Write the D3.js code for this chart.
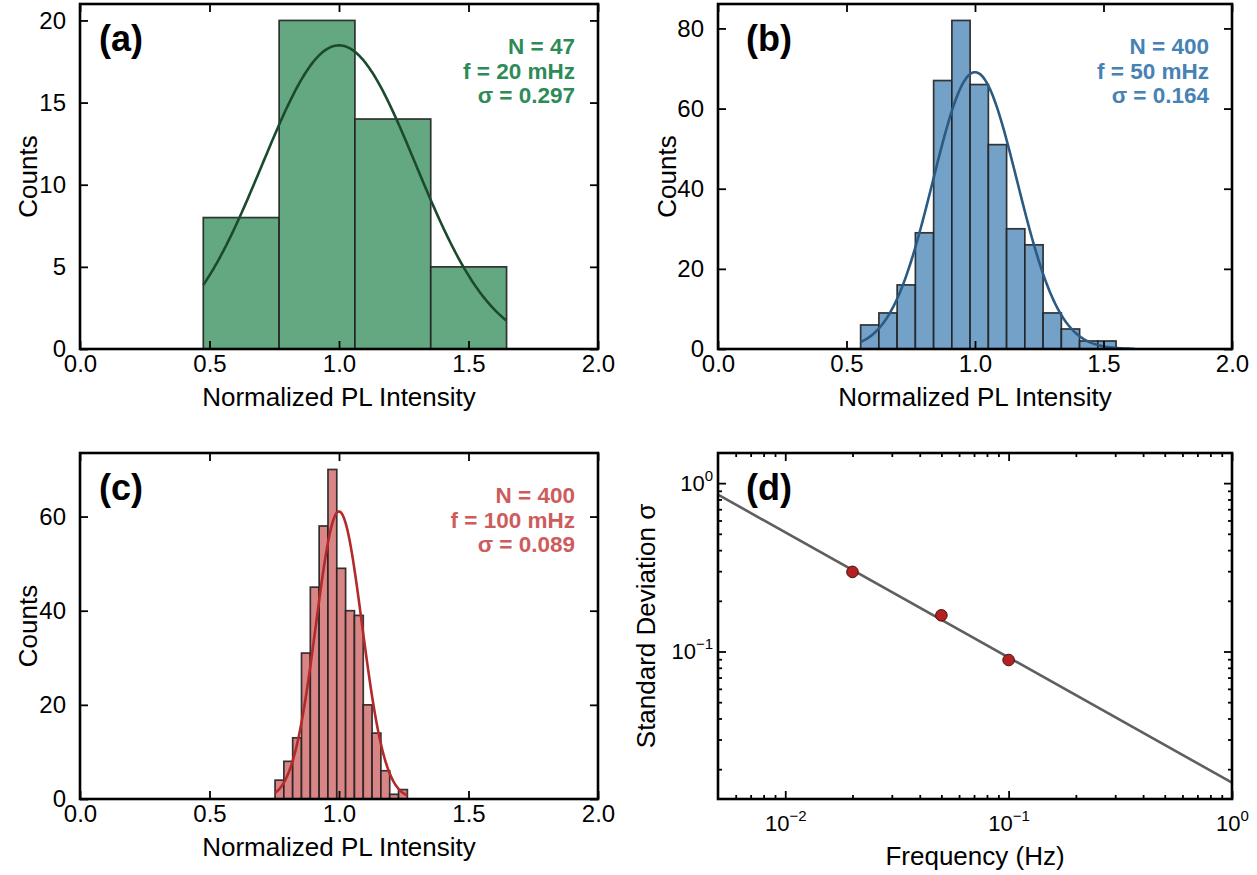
<!DOCTYPE html>
<html>
<head>
<meta charset="utf-8">
<script src="https://cdn.jsdelivr.net/npm/d3@7"></script>
<style>
body{margin:0;background:#fff}
svg{font-family:"Liberation Sans",Arial,sans-serif}
</style>
</head>
<body>
<svg id="fig" width="1257" height="875"></svg>
<script>
/* histogram counts, equal-width bins between min and max of each set */
const countsA = [8, 20, 14, 5]
const countsB = [6, 9, 16, 29, 67, 82, 66, 51, 30, 26, 9, 5, 2, 0, 2]
const countsC = [4, 8, 13, 31, 45, 58, 70, 49, 40, 39, 20, 14, 6, 1, 2]
const rangeA = [0.476, 1.647]
const rangeB = [0.555, 1.620]
const rangeC = [0.753, 1.264]

const sampleSizes = [47, 400, 400]
const freqs = [0.02, 0.05, 0.1]            // Hz
const freqLabels = ['20 mHz', '50 mHz', '100 mHz']
const sigmas = [0.297, 0.164, 0.089]       // fitted std dev
const fitMeans = [1.0, 1.0, 1.0]

const xTicksHist = [0, 0.5, 1.0, 1.5, 2.0]
const yTicksA = [0, 5, 10, 15, 20]
const yTicksB = [0, 20, 40, 60, 80]
const yTicksC = [0, 20, 40, 60]
const freqDomain = [0.005, 1]
const sigmaDomain = [0.0133, 1.51]

const svg = d3.select('#fig')

const boxes = {
    a: {left: 80, right: 598, top: 4, bottom: 349, lab: 19},
    b: {left: 718, right: 1232, top: 4, bottom: 349, lab: 28},
    c: {left: 80, right: 598, top: 453, bottom: 799, lab: 19},
    d: {left: 718, right: 1232, top: 453, bottom: 799, lab: 28}
}

const styleAxis = (g) => {
    g.select('.domain').remove()
    g.attr('font-family', '"Liberation Sans",Arial,sans-serif')
     .attr('font-size', 24)
    g.selectAll('.tick line').attr('stroke', '#000').attr('stroke-width', 1.8)
    g.selectAll('.tick text').attr('fill', '#000')
}

const drawFrame = (box) => {
    svg.append('rect')
       .attr('x', box.left).attr('y', box.top)
       .attr('width', box.right - box.left)
       .attr('height', box.bottom - box.top)
       .attr('fill', 'none').attr('stroke', '#000').attr('stroke-width', 2.6)
}

const axisLabels = (box, xText, yText, xBase, yBase) => {
    svg.append('text')
       .attr('x', (box.left + box.right) / 2).attr('y', xBase)
       .attr('text-anchor', 'middle').attr('font-size', 26)
       .text(xText)
    svg.append('text')
       .attr('transform', 'translate(' + yBase + ',' + (box.top + box.bottom) / 2 + ') rotate(-90)')
       .attr('text-anchor', 'middle').attr('font-size', 26)
       .text(yText)
}

const panelLetter = (box, letter) => {
    svg.append('text')
       .attr('x', box.left + box.lab).attr('y', box.top + 47)
       .attr('font-size', 36).attr('font-weight', 'bold')
       .text('(' + letter + ')')
}

/* one histogram panel with its gaussian fit */
const drawHist = (box, counts, range, k, yTicks, col, letter, yLabelX) => {
    const x = d3.scaleLinear().domain([0, 2]).range([box.left, box.right])
    const y = d3.scaleLinear().domain([0, d3.max(counts) * 1.05]).range([box.bottom, box.top])
    const bw = (range[1] - range[0]) / counts.length

    svg.append('g').selectAll('rect')
       .data(counts)
       .enter()
       .filter(c => c > 0)
       .append('rect')
       .attr('x', (c, i) => x(range[0] + i * bw))
       .attr('y', c => y(c))
       .attr('width', x(bw) - x(0))
       .attr('height', c => y(0) - y(c))
       .attr('fill', col.fill)
       .attr('stroke', '#222').attr('stroke-opacity', 0.9)
       .attr('stroke-width', 1.7)

    // gaussian fit scaled to counts
    const mu = fitMeans[k], s = sigmas[k]
    const amp = sampleSizes[k] * bw / (s * Math.sqrt(2 * Math.PI))
    const xs = d3.range(0, 201).map(i => range[0] + (range[1] - range[0]) * i / 200)
    const line = d3.line()
                   .x(v => x(v))
                   .y(v => y(amp * Math.exp(-(v - mu) * (v - mu) / (2 * s * s))))
    svg.append('path')
       .attr('d', line(xs))
       .attr('fill', 'none').attr('stroke', col.curve).attr('stroke-width', 2.6)

    drawFrame(box)

    svg.append('g')
       .attr('transform', 'translate(0,' + box.bottom + ')')
       .call(d3.axisBottom(x).tickValues(xTicksHist).tickFormat(d3.format('.1f'))
               .tickSizeInner(-8).tickSizeOuter(0).tickPadding(6))
       .call(styleAxis)
    svg.append('g')
       .attr('transform', 'translate(0,' + box.top + ')')
       .call(d3.axisTop(x).tickValues(xTicksHist).tickFormat('').tickSizeInner(-8).tickSizeOuter(0))
       .call(styleAxis)
    svg.append('g')
       .attr('transform', 'translate(' + box.left + ',0)')
       .call(d3.axisLeft(y).tickValues(yTicks).tickSizeInner(-8).tickSizeOuter(0).tickPadding(14))
       .call(styleAxis)
    svg.append('g')
       .attr('transform', 'translate(' + box.right + ',0)')
       .call(d3.axisRight(y).tickValues(yTicks).tickFormat('').tickSizeInner(-8).tickSizeOuter(0))
       .call(styleAxis)

    // annotation
    const lines = ['N = ' + sampleSizes[k], 'f = ' + freqLabels[k], 'σ = ' + sigmas[k].toFixed(3)]
    svg.append('g').selectAll('text')
       .data(lines)
       .enter()
       .append('text')
       .attr('x', box.right - 23)
       .attr('y', (d, i) => box.top + 50 + i * 24.5)
       .attr('text-anchor', 'end')
       .attr('font-size', 22.5).attr('font-weight', 'bold')
       .attr('fill', col.text)
       .text(d => d)

    panelLetter(box, letter)
    axisLabels(box, 'Normalized PL Intensity', 'Counts', box.bottom + 57, yLabelX)
}

drawHist(boxes.a, countsA, rangeA, 0, yTicksA,
         {fill: '#63a881', curve: '#1b4a2c', text: '#2e8b57'}, 'a', 37)
drawHist(boxes.b, countsB, rangeB, 1, yTicksB,
         {fill: '#74a1c7', curve: '#2b5a82', text: '#4682b4'}, 'b', 676)
drawHist(boxes.c, countsC, rangeC, 2, yTicksC,
         {fill: '#da8585', curve: '#b22a2a', text: '#cd5c5c'}, 'c', 37)

/* panel d : sigma vs frequency, log-log with power-law fit */
const drawScaling = (box) => {
    const x = d3.scaleLog().domain(freqDomain).range([box.left, box.right])
    const y = d3.scaleLog().domain(sigmaDomain).range([box.bottom, box.top])

    // least squares fit in log space
    const lx = freqs.map(Math.log10), ly = sigmas.map(Math.log10)
    const mx = d3.mean(lx), my = d3.mean(ly)
    const slope = d3.sum(lx, (v, i) => (v - mx) * (ly[i] - my)) / d3.sum(lx, v => (v - mx) * (v - mx))
    const icpt = my - slope * mx
    const fitLine = d3.line()
                      .x(f => x(f))
                      .y(f => y(Math.pow(10, icpt + slope * Math.log10(f))))
    svg.append('path')
       .attr('d', fitLine(freqDomain))
       .attr('fill', 'none').attr('stroke', '#5f5f5f').attr('stroke-width', 2.6)

    svg.append('g').selectAll('circle')
       .data(freqs)
       .enter()
       .append('circle')
       .attr('cx', f => x(f))
       .attr('cy', (f, i) => y(sigmas[i]))
       .attr('r', 5.8)
       .attr('fill', '#b22222').attr('stroke', '#4a0c0c').attr('stroke-width', 1)

    drawFrame(box)

    const xMajor = [0.01, 0.1, 1]
    const xMinor = []
    ;[0.001, 0.01, 0.1].forEach(dec => d3.range(2, 10).forEach(m => {
        const v = +(dec * m).toPrecision(3)
        if (v > freqDomain[0] && v < freqDomain[1]) xMinor.push(v)
    }))
    const yMajor = [0.1, 1]
    const yMinor = []
    ;[0.01, 0.1, 1].forEach(dec => d3.range(2, 10).forEach(m => {
        const v = +(dec * m).toPrecision(3)
        if (v > sigmaDomain[0] && v < sigmaDomain[1]) yMinor.push(v)
    }))
    const expo = v => {
        const e = Math.round(Math.log10(v))
        return e < 0 ? '\u2212' + (-e) : '' + e
    }
    const supLabels = (g) => {
        g.attr('font-size', 22)
        g.selectAll('.tick text').each(function(d) {
            const t = d3.select(this)
            t.text('10')
            t.append('tspan').attr('dy', -10).attr('font-size', 15).text(expo(d))
        })
    }

    // bottom
    svg.append('g').attr('transform', 'translate(0,' + box.bottom + ')')
       .call(d3.axisBottom(x).tickValues(xMajor).tickSizeInner(-8).tickSizeOuter(0).tickPadding(16))
       .call(styleAxis).call(supLabels)
    svg.append('g').attr('transform', 'translate(0,' + box.bottom + ')')
       .call(d3.axisBottom(x).tickValues(xMinor).tickFormat('').tickSizeInner(-4).tickSizeOuter(0))
       .call(styleAxis)
    // top
    svg.append('g').attr('transform', 'translate(0,' + box.top + ')')
       .call(d3.axisTop(x).tickValues(xMajor).tickFormat('').tickSizeInner(-8).tickSizeOuter(0))
       .call(styleAxis)
    svg.append('g').attr('transform', 'translate(0,' + box.top + ')')
       .call(d3.axisTop(x).tickValues(xMinor).tickFormat('').tickSizeInner(-4).tickSizeOuter(0))
       .call(styleAxis)
    // left
    svg.append('g').attr('transform', 'translate(' + box.left + ',0)')
       .call(d3.axisLeft(y).tickValues(yMajor).tickSizeInner(-8).tickSizeOuter(0).tickPadding(5))
       .call(styleAxis).call(supLabels)
    svg.append('g').attr('transform', 'translate(' + box.left + ',0)')
       .call(d3.axisLeft(y).tickValues(yMinor).tickFormat('').tickSizeInner(-4).tickSizeOuter(0))
       .call(styleAxis)
    // right
    svg.append('g').attr('transform', 'translate(' + box.right + ',0)')
       .call(d3.axisRight(y).tickValues(yMajor).tickFormat('').tickSizeInner(-8).tickSizeOuter(0))
       .call(styleAxis)
    svg.append('g').attr('transform', 'translate(' + box.right + ',0)')
       .call(d3.axisRight(y).tickValues(yMinor).tickFormat('').tickSizeInner(-4).tickSizeOuter(0))
       .call(styleAxis)

    panelLetter(box, 'd')
    axisLabels(box, 'Frequency (Hz)', 'Standard Deviation σ', box.bottom + 66, 655)
}

drawScaling(boxes.d)
</script>
</body>
</html>
